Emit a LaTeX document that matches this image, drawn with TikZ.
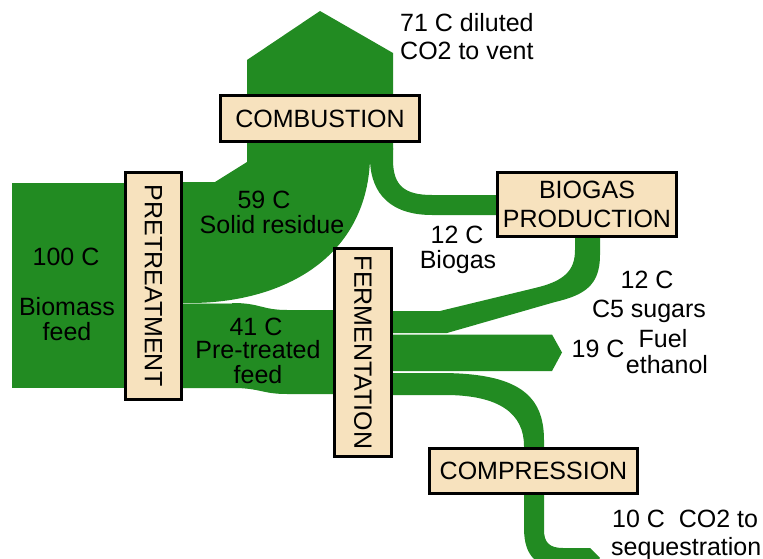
\documentclass[tikz,border=0pt]{standalone}
\usepackage{fontspec}
\setmainfont{Liberation Sans}
\definecolor{flow}{RGB}{34,139,34}
\definecolor{boxfill}{RGB}{247,226,190}
\begin{document}
\begin{tikzpicture}[x=1pt,y=-1pt,
  procbox/.style={draw=black, line width=3pt, fill=boxfill, inner sep=0pt,
    font=\fontsize{25}{29}\selectfont, align=center},
  lbl/.style={font=\fontsize{25}{28}\selectfont, inner sep=0pt, text=black},
]
\useasboundingbox (0,0) rectangle (763,559);
\clip (0,0) rectangle (763,559);

% ---- flows ----
% vent + column above/below combustion
\fill[flow] (247,150) -- (247,60) -- (320,11) -- (393,53) -- (393,150) -- cycle;
% solid residue
\fill[flow] (180,182) -- (215,182) -- (247,162) -- (247,148) -- (370,148) -- (370,160)
  .. controls (366,260) and (280,303) .. (190,303) -- (180,303) -- cycle;
% biogas to combustion
\fill[flow] (393,148) -- (393,160) .. controls (393,186) and (405,195) .. (432,195)
  -- (499,195) -- (499,215) -- (432,215) .. controls (392,215) and (371,195) .. (370,160)
  -- (370,148) -- cycle;
% biomass feed
\fill[flow] (12,183) rectangle (126,388);
% pre-treated feed
\fill[flow] (180,303) -- (233,303) .. controls (260,303) and (262,310) .. (287,310)
  -- (336,310) -- (336,394) -- (287,394) .. controls (262,394) and (260,388) .. (233,388)
  -- (180,388) -- cycle;
% C5 sugars to biogas production
\fill[flow] (390,311) -- (440,311) -- (535,288) .. controls (565,281) and (575,270) .. (575,250)
  -- (575,236) -- (600,236) -- (600,255) .. controls (600,285) and (585,295) .. (555,302)
  -- (447,333) -- (390,333) -- cycle;
% fuel ethanol
\fill[flow] (390,334.5) -- (552,334.5) -- (562,352.5) -- (552,371) -- (390,371) -- cycle;
% CO2 to compression
\fill[flow] (390,373) -- (440,373) .. controls (518,373) and (544,395) .. (544,440)
  -- (544,450) -- (524,450) -- (524,446) .. controls (524,414) and (500,395) .. (445,395)
  -- (390,395) -- cycle;
% CO2 to sequestration
\fill[flow] (524,492) -- (524,528) .. controls (524,558) and (538,568) .. (565,568)
  -- (590,568) -- (600,558) -- (590,548) -- (563,548) .. controls (549,548) and (544,542) .. (544,530)
  -- (544,492) -- cycle;
% separator
\draw[flow!45!white, line width=0.7pt] (183,303) -- (232,303);

% ---- process boxes ----
\node[procbox, minimum width=199pt, minimum height=46pt] (comb) at (320,118.5) {COMBUSTION};
\node[procbox, minimum width=179pt, minimum height=64pt] (biogas) at (587,204.5) {BIOGAS\\PRODUCTION};
\node[procbox, minimum width=208pt, minimum height=45pt] (comp) at (533.5,471) {COMPRESSION};
\node[procbox, rotate=-90, minimum width=227pt, minimum height=56pt] (pret) at (153.5,286) {PRETREATMENT};
\node[procbox, rotate=-90, minimum width=208pt, minimum height=57pt] (ferm) at (363,352.5) {FERMENTATION};

% ---- labels ----
\node[lbl, anchor=base west] (l71a) at (400,32) {71 C diluted};
\node[lbl, anchor=base west] (l71b) at (400,60) {CO2 to vent};
\node[lbl, anchor=base] (l59a) at (264,208) {59 C};
\node[lbl, anchor=base] (l59b) at (272,233) {Solid residue};
\node[lbl, anchor=base] (l100) at (66,265) {100 C};
\node[lbl, anchor=base] (lbioa) at (67,315) {Biomass};
\node[lbl, anchor=base] (lbiob) at (67,340) {feed};
\node[lbl, anchor=base] (l41a) at (256,335) {41 C};
\node[lbl, anchor=base] (l41b) at (258,358) {Pre-treated};
\node[lbl, anchor=base] (l41c) at (258,383) {feed};
\node[lbl, anchor=base] (l12a) at (457,243) {12 C};
\node[lbl, anchor=base] (l12b) at (458,268) {Biogas};
\node[lbl, anchor=base] (l12c) at (647,288) {12 C};
\node[lbl, anchor=base] (l12d) at (649,317) {C5 sugars};
\node[lbl, anchor=base] (l19) at (598,357) {19 C};
\node[lbl, anchor=base] (lfuel) at (663,347) {Fuel};
\node[lbl, anchor=base] (leth) at (667,373) {ethanol};
\node[lbl, anchor=base west] (l10a) at (612,527) {10 C\ \ CO2 to};
\node[lbl, anchor=base west] (l10b) at (611,555) {sequestration};
\end{tikzpicture}
\end{document}
